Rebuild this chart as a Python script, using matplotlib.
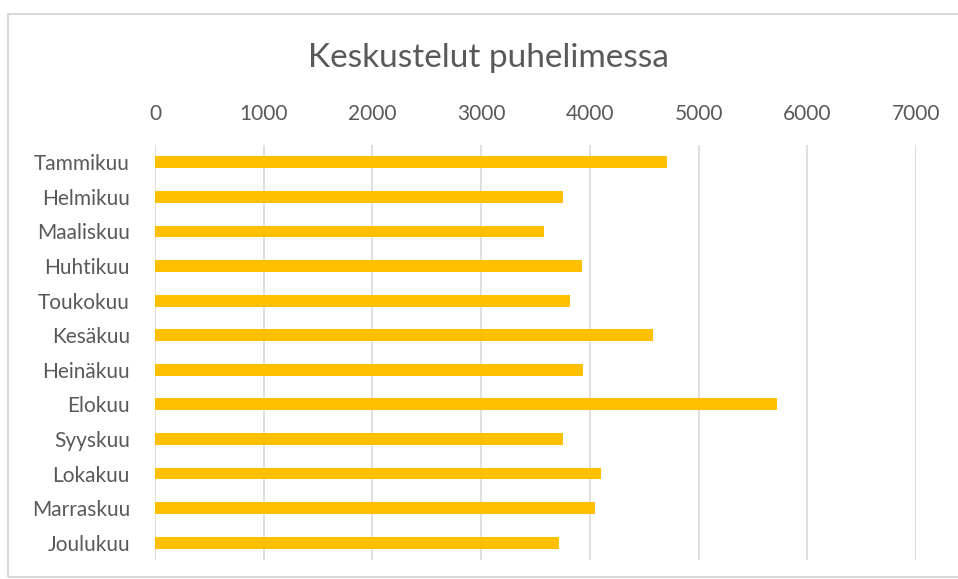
import matplotlib.pyplot as plt
from matplotlib.patches import Rectangle

months = ["Tammikuu", "Helmikuu", "Maaliskuu", "Huhtikuu", "Toukokuu", "Kesäkuu",
          "Heinäkuu", "Elokuu", "Syyskuu", "Lokakuu", "Marraskuu", "Joulukuu"]
calls = [4710, 3750, 3580, 3930, 3815, 4585, 3935, 5720, 3750, 4105, 4045, 3715]
xticks = [0, 1000, 2000, 3000, 4000, 5000, 6000, 7000]

plt.rcParams['font.family'] = ['Lato', 'DejaVu Sans']
text_col = "#595959"
grid_col = "#D9D9D9"

fig = plt.figure(figsize=(9.58, 5.79), dpi=100)
# chart border
fig.patches.append(Rectangle((8 / 958, 2 / 579), 1.1, 563 / 579, transform=fig.transFigure,
                             fill=False, edgecolor=grid_col, linewidth=1.5))

ax = fig.add_axes([155 / 958, 1 - 560 / 579, 761 / 958, 415 / 579])
ax.barh(range(len(months)), calls, height=0.34, color="#FFC000", zorder=3)
ax.set_xlim(0, 7000)
ax.set_ylim(len(months) - 0.5, -0.5)
ax.set_yticks(range(len(months)))
ax.set_yticklabels(months)
ax.set_xticks(xticks)
ax.xaxis.tick_top()
ax.tick_params(axis='x', length=0, pad=15, labelsize=15, labelcolor=text_col)
ax.tick_params(axis='y', length=0, pad=18, labelsize=15, labelcolor=text_col)
ax.grid(axis='x', color=grid_col, linewidth=1.2, zorder=0)
for s in ax.spines.values():
    s.set_visible(False)

fig.text(488 / 958, 1 - 58 / 579, "Keskustelut puhelimessa", ha='center', va='center',
         fontsize=24, color=text_col)

plt.savefig("out.png", dpi=100)
